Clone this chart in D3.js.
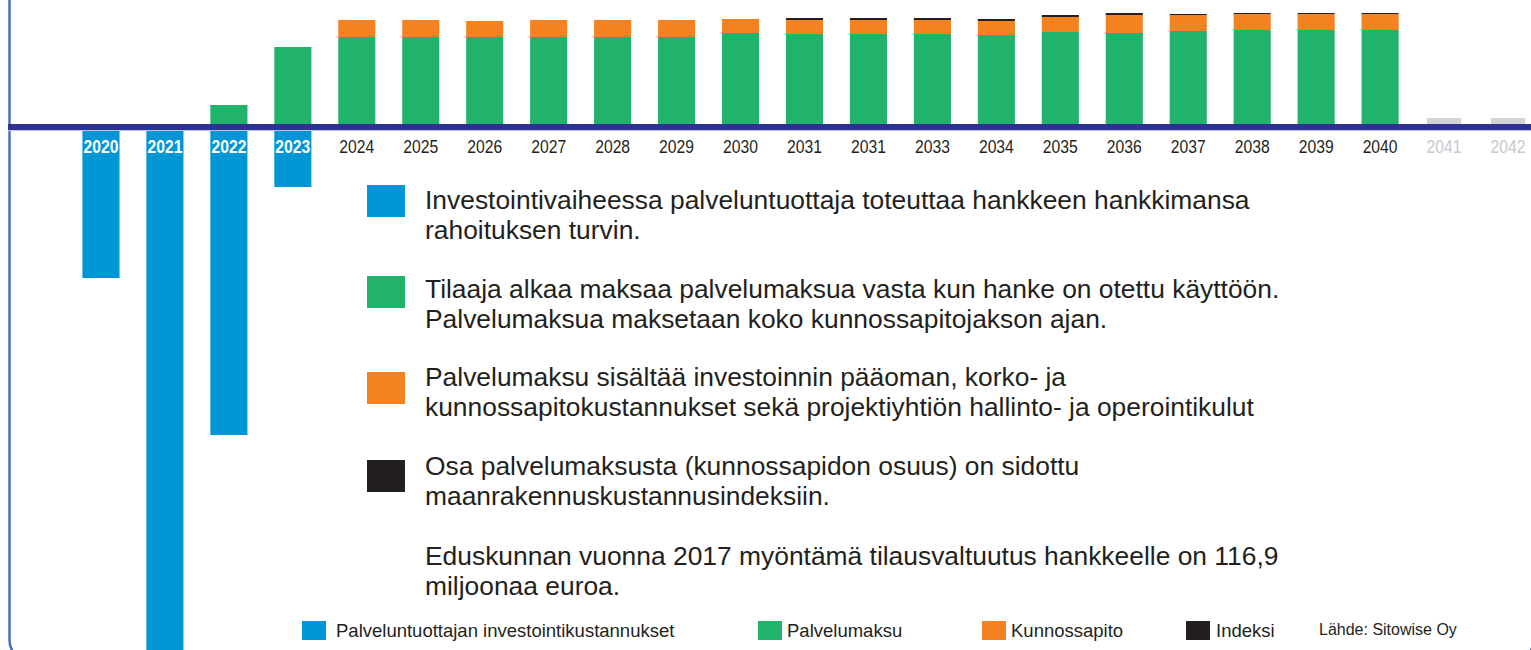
<!DOCTYPE html>
<html lang="fi">
<head>
<meta charset="UTF-8" />
<title>Palvelumaksu</title>
<script src="https://d3js.org/d3.v7.min.js"></script>
<style>
    body { margin: 0; background: #fff; }
    svg { display: block; font-family: "Liberation Sans", Arial, sans-serif; }
    .note text { font-size: 26.4px; fill: #231f20; }
    .legend text { font-size: 18.5px; fill: #231f20; }
</style>
</head>
<body>
<script>
// vuodet (2031 toistuu alkuperäisessä kuvassa)
const years = ["2020", "2021", "2022", "2023", "2024", "2025", "2026", "2027", "2028", "2029",
    "2030", "2031", "2031", "2033", "2034", "2035", "2036", "2037", "2038", "2039", "2040", "2041", "2042"];

// arvot, milj. euroa (luettu kuvasta)
const investment  = [-15.1, -54, -30.8, -6.0, 0, 0, 0, 0, 0, 0, 0, 0, 0, 0, 0, 0, 0, 0, 0, 0, 0, 0, 0];
const serviceFee  = [0, 0, 2.2, 8.0, 9.0, 9.0, 9.0, 9.0, 9.0, 9.0, 9.4, 9.3, 9.3, 9.3, 9.2, 9.5, 9.4, 9.6, 9.7, 9.7, 9.7, 0, 0];
const maintenance = [0, 0, 0, 0, 1.7, 1.7, 1.6, 1.7, 1.7, 1.7, 1.4, 1.4, 1.4, 1.4, 1.4, 1.5, 1.8, 1.6, 1.6, 1.6, 1.6, 0, 0];
const indexPart   = [0, 0, 0, 0, 0, 0, 0, 0, 0, 0, 0, 0.2, 0.2, 0.2, 0.2, 0.2, 0.2, 0.1, 0.1, 0.1, 0.1, 0, 0];
const afterPeriod = [0, 0, 0, 0, 0, 0, 0, 0, 0, 0, 0, 0, 0, 0, 0, 0, 0, 0, 0, 0, 0, 0.9, 0.9];

const seriesNames = ["Palveluntuottajan investointikustannukset", "Palvelumaksu", "Kunnossapito", "Indeksi"];
const source = "Lähde: Sitowise Oy";

const notes = [
    ["Investointivaiheessa palveluntuottaja toteuttaa hankkeen hankkimansa", "rahoituksen turvin."],
    ["Tilaaja alkaa maksaa palvelumaksua vasta kun hanke on otettu käyttöön.", "Palvelumaksua maksetaan koko kunnossapitojakson ajan."],
    ["Palvelumaksu sisältää investoinnin pääoman, korko- ja", "kunnossapitokustannukset sekä projektiyhtiön hallinto- ja operointikulut"],
    ["Osa palvelumaksusta (kunnossapidon osuus) on sidottu", "maanrakennuskustannusindeksiin."],
    ["Eduskunnan vuonna 2017 myöntämä tilausvaltuutus hankkeelle on 116,9", "miljoonaa euroa."]
];

const colors = ["#0096d6", "#21b26b", "#f58220", "#231f20"];
const greyBar = "#d1d3d4";

const w = 1531, h = 650;

const svg = d3.select("body").append("svg")
    .attr("width", w)
    .attr("height", h);

// kehys
svg.append("rect")
    .attr("x", 9.5).attr("y", -40)
    .attr("width", 1524).attr("height", 702)
    .attr("rx", 22)
    .attr("fill", "none")
    .attr("stroke", "#4f6cbf")
    .attr("stroke-width", 2.5);

const x = d3.scaleBand()
    .domain(d3.range(years.length))
    .range([69, 1540])
    .paddingInner(0.42)
    .paddingOuter(0.21);

const y = d3.scaleLinear()
    .domain([-60, 12.7])
    .range([727, 0]);

// investoinnit alaspäin
svg.append("g").selectAll("rect")
    .data(investment.map((v, i) => ({ i, v })).filter(d => d.v < 0))
    .join("rect")
    .attr("x", d => x(d.i))
    .attr("width", x.bandwidth())
    .attr("y", y(0))
    .attr("height", d => y(d.v) - y(0))
    .attr("fill", colors[0]);

// palvelumaksu pinottuna
const rows = years.map((yr, i) => ({ i, fee: serviceFee[i], maint: maintenance[i], idx: indexPart[i] }));
const stack = d3.stack().keys(["fee", "maint", "idx"]);

svg.append("g").selectAll("g")
    .data(stack(rows))
    .join("g")
    .attr("fill", (d, k) => colors[k + 1])
    .selectAll("rect")
    .data(d => d.filter(s => s[1] - s[0] > 0))
    .join("rect")
    .attr("x", d => x(d.data.i))
    .attr("width", x.bandwidth())
    .attr("y", d => y(d[1]))
    .attr("height", d => y(d[0]) - y(d[1]));

// sopimuskauden jälkeiset vuodet
svg.append("g").selectAll("rect")
    .data(afterPeriod.map((v, i) => ({ i, v })).filter(d => d.v > 0))
    .join("rect")
    .attr("x", d => x(d.i) + 1.5)
    .attr("width", x.bandwidth() - 3)
    .attr("y", d => y(d.v))
    .attr("height", d => y(0) - y(d.v))
    .attr("fill", greyBar);

// vaaka-akseli
svg.append("line")
    .attr("x1", 8).attr("x2", w)
    .attr("y1", y(0) + 3.5).attr("y2", y(0) + 3.5)
    .attr("stroke", "#c3c3e2").attr("stroke-width", 1);
svg.append("line")
    .attr("x1", 8).attr("x2", w)
    .attr("y1", y(0)).attr("y2", y(0))
    .attr("stroke", "#2e3192").attr("stroke-width", 6);

const axis = svg.append("g")
    .attr("transform", `translate(0,${y(0)})`)
    .call(d3.axisBottom(x).tickSize(0).tickPadding(12.5).tickFormat(i => years[i]));
axis.select(".domain").remove();
axis.selectAll("text")
    .attr("font-family", "Liberation Sans, Arial, sans-serif")
    .attr("font-size", 18.5)
    .attr("transform", "scale(0.85,1)")
    .attr("font-weight", i => investment[i] < 0 ? "bold" : "normal")
    .attr("fill", i => investment[i] < 0 ? "#ffffff" : afterPeriod[i] > 0 ? "#c7c8ca" : "#231f20");

// selitetekstit
const noteTop = [209, 298, 386, 475, 565];
const note = svg.selectAll("g.note")
    .data(notes)
    .join("g")
    .attr("class", "note")
    .attr("transform", (d, i) => `translate(0,${noteTop[i]})`);

note.filter((d, i) => i < 4).append("rect")
    .attr("x", 367)
    .attr("y", (d, i) => [-24, -22, -14, -15][i])
    .attr("width", 38)
    .attr("height", 32)
    .attr("fill", (d, i) => colors[i]);

note.selectAll("text")
    .data(d => d)
    .join("text")
    .attr("x", 425)
    .attr("y", (d, j) => j * 29.5)
    .text(d => d);

// alalegenda
const legendX = [302, 758, 982, 1186];
const legendTextX = [336, 787, 1011, 1216];
const legend = svg.selectAll("g.legend")
    .data(seriesNames)
    .join("g")
    .attr("class", "legend");

legend.append("rect")
    .attr("x", (d, i) => legendX[i])
    .attr("y", 621)
    .attr("width", 24)
    .attr("height", 19)
    .attr("fill", (d, i) => colors[i]);

legend.append("text")
    .attr("x", (d, i) => legendTextX[i])
    .attr("y", 637)
    .text(d => d);

svg.append("text")
    .attr("x", 1319)
    .attr("y", 635)
    .attr("font-size", 16)
    .attr("fill", "#231f20")
    .text(source);
</script>
</body>
</html>
